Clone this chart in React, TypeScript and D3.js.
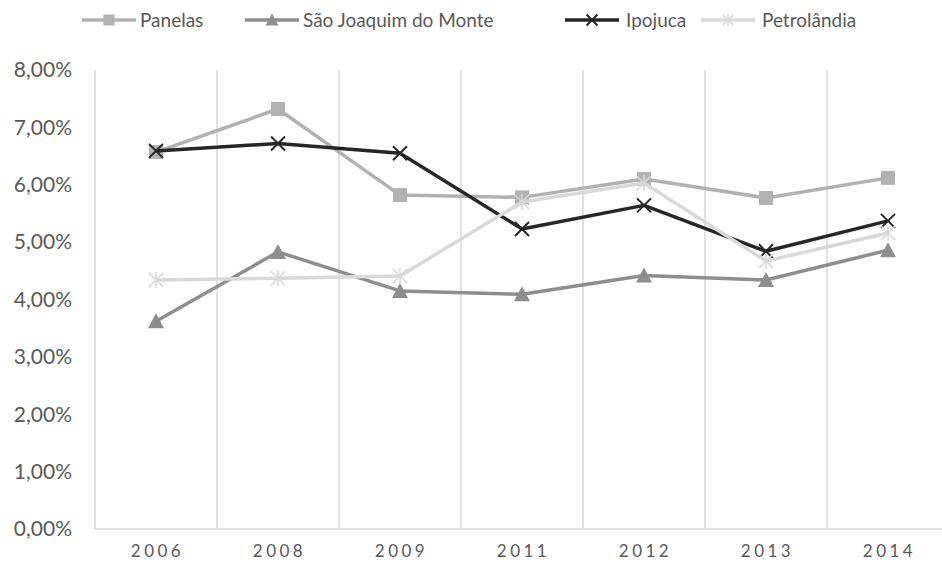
import React from "react";
import * as d3 from "d3";

const years = ["2006", "2008", "2009", "2011", "2012", "2013", "2014"];
const panelas = [6.57, 7.32, 5.82, 5.78, 6.1, 5.77, 6.12];
const saoJoaquim = [3.62, 4.83, 4.15, 4.09, 4.42, 4.34, 4.86];
const ipojuca = [6.59, 6.72, 6.55, 5.23, 5.64, 4.84, 5.37];
const petrolandia = [4.34, 4.37, 4.41, 5.7, 6.03, 4.67, 5.16];
const yTicks = [0, 1, 2, 3, 4, 5, 6, 7, 8];

type Kind = "square" | "triangle" | "x" | "star";
const series: { name: string; values: number[]; color: string; kind: Kind }[] = [
  { name: "Panelas", values: panelas, color: "#b2b2b2", kind: "square" },
  { name: "São Joaquim do Monte", values: saoJoaquim, color: "#8e8e8e", kind: "triangle" },
  { name: "Ipojuca", values: ipojuca, color: "#262626", kind: "x" },
  { name: "Petrolândia", values: petrolandia, color: "#d9d9d9", kind: "star" },
];

const W = 942;
const H = 570;
const left = 95;
const right = 949;
const top = 70;
const bottom = 529;
const FONT = "Lato, 'Open Sans', sans-serif";
const TXT = "#595959";

function Marker({ kind, x, y, color, s }: { kind: Kind; x: number; y: number; color: string; s: number }) {
  const h = s / 2;
  if (kind === "square") return <rect x={x - h} y={y - h} width={s} height={s} fill={color} />;
  if (kind === "triangle")
    return <path d={`M${x},${y - h - 1}L${x + h + 1},${y + h}L${x - h - 1},${y + h}Z`} fill={color} />;
  if (kind === "x")
    return (
      <path d={`M${x - h},${y - h}L${x + h},${y + h}M${x - h},${y + h}L${x + h},${y - h}`} stroke={color} strokeWidth={2} fill="none" />
    );
  return (
    <path
      d={`M${x - h},${y - h}L${x + h},${y + h}M${x - h},${y + h}L${x + h},${y - h}M${x},${y - h - 1}L${x},${y + h + 1}`}
      stroke={color}
      strokeWidth={1.6}
      fill="none"
    />
  );
}

export default function App() {
  const x = d3.scaleBand<string>().domain(years).range([left, right]).padding(0);
  const y = d3.scaleLinear().domain([0, 8]).range([bottom, top]);
  const cx = (yr: string) => (x(yr) as number) + x.bandwidth() / 2;
  const line = d3
    .line<number>()
    .x((_, i) => cx(years[i]))
    .y((v) => y(v));

  const legendItems = [
    { lx: 82, tx: 140 },
    { lx: 245, tx: 303 },
    { lx: 565, tx: 626 },
    { lx: 701, tx: 762 },
  ];

  return (
    <svg width={W} height={H} style={{ position: "absolute", left: 0, top: 0, background: "#fff" }}>
      {years.map((yr) => (
        <line key={yr} x1={x(yr)} x2={x(yr)} y1={top} y2={bottom} stroke="#d9d9d9" strokeWidth={1.5} />
      ))}
      <line x1={left} x2={right} y1={bottom} y2={bottom} stroke="#d9d9d9" strokeWidth={1.5} />

      {yTicks.map((t) => (
        <text key={t} x={72} y={y(t)} dy="0.35em" textAnchor="end" fontFamily={FONT} fontSize={21} fill={TXT}>
          {t.toFixed(2).replace(".", ",")}%
        </text>
      ))}
      {years.map((yr) => (
        <text key={yr} x={cx(yr) + 1.5} y={557} textAnchor="middle" fontFamily={FONT} fontSize={17} fill={TXT} letterSpacing={3.5}>
          {yr}
        </text>
      ))}

      {series.map((s) => (
        <g key={s.name}>
          <path d={line(s.values) || ""} fill="none" stroke={s.color} strokeWidth={3.5} strokeLinejoin="round" />
          {s.values.map((v, i) => (
            <Marker key={i} kind={s.kind} x={cx(years[i])} y={y(v)} color={s.color} s={14} />
          ))}
        </g>
      ))}

      {series.map((s, i) => (
        <g key={s.name}>
          <line x1={legendItems[i].lx} x2={legendItems[i].lx + 54} y1={20} y2={20} stroke={s.color} strokeWidth={3.5} />
          <Marker kind={s.kind} x={legendItems[i].lx + 27} y={20} color={s.color} s={11} />
          <text x={legendItems[i].tx} y={20} dy="0.35em" fontFamily={FONT} fontSize={19} fill={TXT}>
            {s.name}
          </text>
        </g>
      ))}
    </svg>
  );
}
